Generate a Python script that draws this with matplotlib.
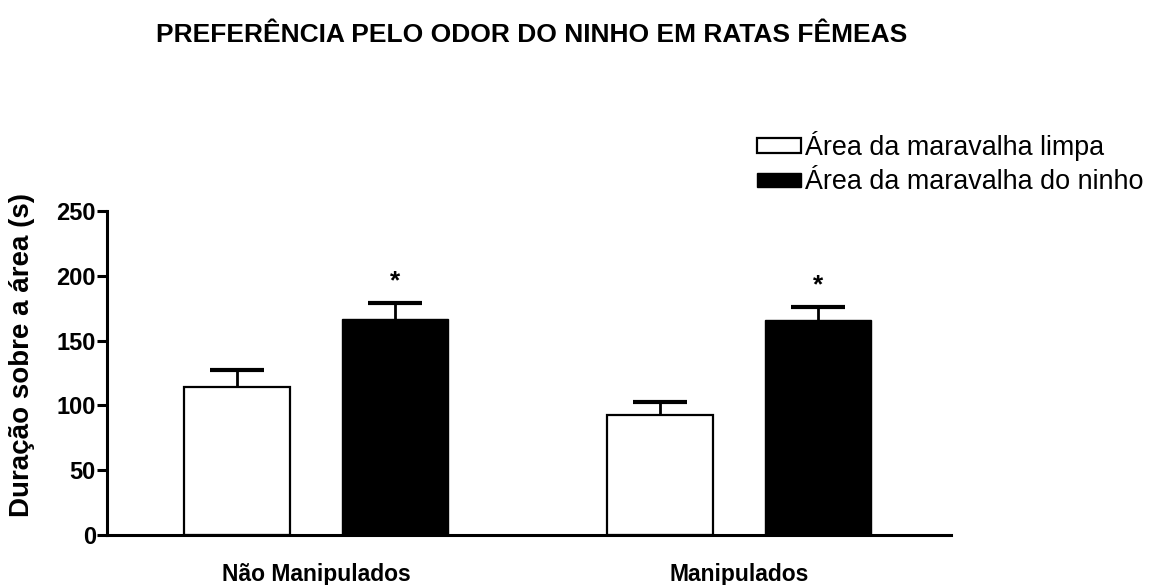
import matplotlib
matplotlib.use("Agg")
import matplotlib.pyplot as plt
import numpy as np

plt.rcParams['font.family'] = ['Liberation Sans', 'DejaVu Sans']

groups = ["Não Manipulados", "Manipulados"]
series = ["Área da maravalha limpa", "Área da maravalha do ninho"]
limpa_mean = [114, 93]
limpa_sem = [13, 10]
ninho_mean = [167, 166]
ninho_sem = [12, 10]
yticks = [0, 50, 100, 150, 200, 250]

fig = plt.figure(figsize=(11.54, 5.85), dpi=100)
ax = fig.add_axes([0.0927, 0.0855, 0.7313, 0.5535])

x = np.arange(len(groups))
w = 0.25
off = 0.1875

ax.bar(x - off, limpa_mean, w, color="white", edgecolor="black", linewidth=1.6,
       label=series[0], zorder=2)
ax.bar(x + off, ninho_mean, w, color="black", edgecolor="black", linewidth=1,
       label=series[1], zorder=2)

# upper error bars only
for xs, m, s in [(x - off, limpa_mean, limpa_sem), (x + off, ninho_mean, ninho_sem)]:
    eb = ax.errorbar(xs, m, yerr=[np.zeros(2), s], fmt='none', ecolor="black",
                     elinewidth=2, capsize=19.5, capthick=3, zorder=1)
    eb.lines[1][0].set_visible(False)

# significance stars
for xi, m, s in zip(x + off, ninho_mean, ninho_sem):
    ax.text(xi, m + s + 17, "*", ha="center", va="center", fontsize=19,
            fontweight="bold")

ax.set_xlim(-0.494, 1.501)
ax.set_ylim(0, 250)
ax.set_yticks(yticks)
ax.set_yticklabels([str(t) for t in yticks], fontsize=17, fontweight="bold")
ax.set_xticks(x)
ax.set_xticklabels(groups, fontsize=16.5, fontweight="bold")
ax.tick_params(axis="x", length=0, pad=20)
ax.tick_params(axis="y", length=7, width=2.2, pad=1)

for s in ["top", "right"]:
    ax.spines[s].set_visible(False)
for s in ["left", "bottom"]:
    ax.spines[s].set_linewidth(2.2)

ax.set_ylabel("Duração sobre a área (s)", fontsize=20, fontweight="bold")
ax.yaxis.set_label_coords(-0.085, 0.555)

fig.text(0.461, 0.94, "PREFERÊNCIA PELO ODOR DO NINHO EM RATAS FÊMEAS",
         ha="center", va="center", fontsize=19, fontweight="bold")

ax.legend(loc="upper left", bbox_to_anchor=(0.757, 1.28), frameon=False,
          fontsize=19.4, handlelength=1.65, handleheight=0.45, handletextpad=0.15,
          labelspacing=0.3, borderaxespad=0)

fig.savefig("out.png", dpi=100)
